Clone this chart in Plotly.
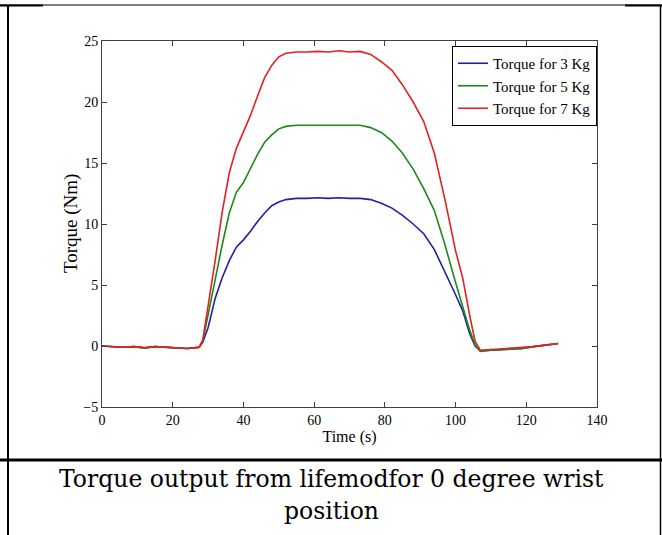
import plotly.graph_objects as go

# ---------------- data ----------------
time_s = [0, 3, 6, 9, 12, 15, 18, 21, 24, 26, 27.5, 28.5, 30, 32, 34, 36, 38, 40,
          42, 44, 46, 48, 50, 52, 55, 58, 61, 64, 67, 70, 73, 76, 79, 82, 85, 88,
          91, 94, 97, 100, 102, 104, 105.5, 107, 110, 113, 116, 119, 122, 125,
          127, 129]

torque_3kg = [0.0, -0.05, -0.1, -0.05, -0.15, -0.05, -0.1, -0.2, -0.2, -0.15,
              -0.1, 0.3, 1.5, 3.9, 5.6, 7.0, 8.1, 8.7, 9.4, 10.2, 10.9, 11.5,
              11.8, 12.0, 12.1, 12.1, 12.15, 12.1, 12.15, 12.1, 12.1, 12.0, 11.7,
              11.3, 10.7, 10.0, 9.2, 7.9, 6.1, 4.2, 2.9, 1.0, 0.0, -0.4, -0.35,
              -0.3, -0.25, -0.2, -0.05, 0.05, 0.15, 0.2]

torque_5kg = [0.0, -0.05, -0.1, -0.05, -0.15, -0.05, -0.1, -0.2, -0.2, -0.15,
              -0.1, 0.4, 2.6, 5.5, 8.3, 10.9, 12.6, 13.4, 14.6, 15.7, 16.7, 17.3,
              17.8, 18.0, 18.1, 18.1, 18.15, 18.1, 18.15, 18.1, 18.1, 17.9, 17.5,
              16.8, 15.8, 14.5, 12.9, 11.1, 8.3, 5.2, 3.2, 1.3, 0.1, -0.45, -0.35,
              -0.3, -0.25, -0.2, -0.05, 0.05, 0.15, 0.2]

torque_7kg = [0.0, -0.05, -0.1, -0.05, -0.15, -0.05, -0.1, -0.2, -0.2, -0.15,
              -0.1, 0.5, 3.2, 7.0, 11.0, 14.2, 16.2, 17.6, 18.9, 20.5, 22.0, 23.0,
              23.7, 24.0, 24.1, 24.1, 24.15, 24.1, 24.2, 24.1, 24.15, 23.9, 23.3,
              22.6, 21.4, 20.0, 18.4, 15.8, 12.0, 7.8, 5.6, 2.5, 0.4, -0.35, -0.3,
              -0.25, -0.2, -0.15, -0.05, 0.05, 0.15, 0.2]

series_names = ["Torque for 3 Kg", "Torque for 5 Kg", "Torque for 7 Kg"]
series_colors = ["#1f1fa8", "#1a8a1a", "#e52020"]

x_ticks = [0, 20, 40, 60, 80, 100, 120, 140]
y_ticks = [-5, 0, 5, 10, 15, 20, 25]

x_title = "Time (s)"
y_title = "Torque (Nm)"
caption_line1 = "Torque output from lifemodfor 0 degree wrist"
caption_line2 = "position"

# ---------------- figure ----------------
W, H = 662, 535
L, R, T, B = 102, 597, 41, 407  # plot area in pixels

def px_x(px):
    return (px - L) / (R - L)

def px_y(py):
    return (B - py) / (B - T)

fig = go.Figure()
for vals, name, col in zip([torque_3kg, torque_5kg, torque_7kg], series_names, series_colors):
    fig.add_trace(go.Scatter(x=time_s, y=vals, mode="lines", name=name,
                             line=dict(color=col, width=1.6)))

tick_font = dict(family="Liberation Serif", size=14, color="black")
axis_common = dict(showgrid=False, zeroline=False, showline=True, linecolor="#404040",
                   linewidth=1, ticks="inside", ticklen=5, tickcolor="#404040",
                   mirror="ticks", tickfont=tick_font)

fig.update_xaxes(range=[0, 140], tickvals=x_ticks, **axis_common,
                 title=dict(text=x_title, font=dict(family="Liberation Serif", size=16, color="black"),
                            standoff=4))
fig.update_yaxes(range=[-5, 25], tickvals=y_ticks, **axis_common)

shapes = []
# top border (thin) and thick ends
shapes.append(dict(type="line", xref="paper", yref="paper", x0=px_x(0), x1=px_x(662),
                   y0=px_y(5), y1=px_y(5), line=dict(color="black", width=1)))
shapes.append(dict(type="line", xref="paper", yref="paper", x0=px_x(0), x1=px_x(43),
                   y0=px_y(5.5), y1=px_y(5.5), line=dict(color="black", width=2)))
shapes.append(dict(type="line", xref="paper", yref="paper", x0=px_x(625), x1=px_x(662),
                   y0=px_y(5.5), y1=px_y(5.5), line=dict(color="black", width=2)))
# left & right borders
shapes.append(dict(type="line", xref="paper", yref="paper", x0=px_x(8), x1=px_x(8),
                   y0=px_y(5), y1=px_y(535), line=dict(color="black", width=2)))
shapes.append(dict(type="line", xref="paper", yref="paper", x0=px_x(660.5), x1=px_x(660.5),
                   y0=px_y(5), y1=px_y(535), line=dict(color="black", width=1.5)))
# middle separator
shapes.append(dict(type="line", xref="paper", yref="paper", x0=px_x(0), x1=px_x(662),
                   y0=px_y(460), y1=px_y(460), line=dict(color="black", width=3)))

cap_font = dict(family="DejaVu Serif", size=23.5, color="black")
annotations = [
    dict(text=y_title, xref="paper", yref="paper", x=px_x(71), y=px_y(224), textangle=-90,
         xanchor="center", yanchor="middle", showarrow=False,
         font=dict(family="Liberation Serif", size=19, color="black")),
    dict(text=caption_line1, xref="paper", yref="paper", x=px_x(331), y=px_y(479),
         xanchor="center", yanchor="middle", showarrow=False, font=cap_font),
    dict(text=caption_line2, xref="paper", yref="paper", x=px_x(331), y=px_y(511),
         xanchor="center", yanchor="middle", showarrow=False, font=cap_font),
]

fig.update_layout(
    width=W, height=H,
    margin=dict(l=L, r=W - R, t=T, b=H - B, pad=0),
    paper_bgcolor="white", plot_bgcolor="white",
    shapes=shapes, annotations=annotations,
    legend=dict(x=1, xanchor="right", y=px_y(46), yanchor="top",
                bgcolor="white", bordercolor="black", borderwidth=1,
                font=dict(family="Liberation Serif", size=15, color="black"),
                tracegroupgap=0),
    showlegend=True,
)

fig.write_html("out.html", config={"displayModeBar": False},
               post_script="document.body.style.margin='0';")
